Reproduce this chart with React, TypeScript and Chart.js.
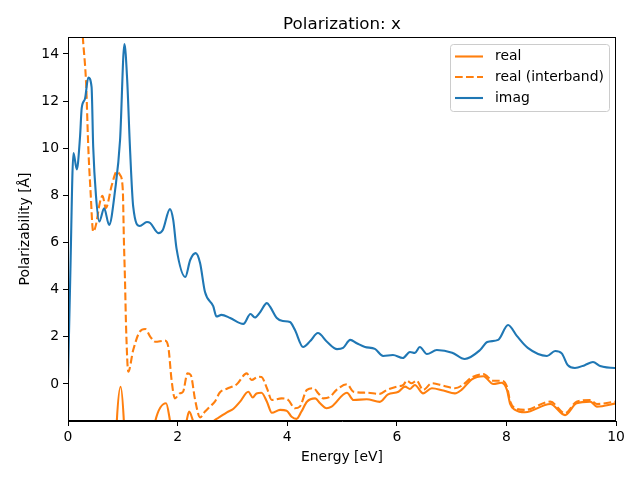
import React, { useEffect, useRef } from "react";
import { Chart, registerables } from "chart.js";

Chart.register(...registerables);

const imagX = [0.0, 0.04, 0.10, 0.16, 0.22, 0.25, 0.31, 0.37, 0.43, 0.46, 0.51, 0.57, 0.66, 0.75, 0.86, 0.95, 1.03, 1.08, 1.13, 1.19, 1.31, 1.44, 1.50, 1.65, 1.73, 1.86, 1.92, 1.98, 2.14, 2.23, 2.33, 2.41, 2.50, 2.65, 2.71, 2.80, 2.96, 3.20, 3.33, 3.41, 3.50, 3.63, 3.69, 3.81, 3.92, 4.05, 4.14, 4.29, 4.42, 4.56, 4.73, 4.91, 5.02, 5.15, 5.27, 5.42, 5.60, 5.75, 5.93, 6.11, 6.24, 6.33, 6.42, 6.55, 6.73, 7.01, 7.24, 7.52, 7.65, 7.85, 8.03, 8.19, 8.39, 8.74, 8.89, 9.01, 9.12, 9.25, 9.43, 9.58, 9.71, 9.98, 10.0];
const imagY = [0.2, 4.4, 9.8, 9.1, 10.5, 11.7, 12.1, 13.0, 12.6, 10.05, 8.0, 6.89, 7.45, 6.75, 8.23, 10.35, 14.42, 12.9, 10.07, 7.52, 6.7, 6.87, 6.83, 6.4, 6.53, 7.42, 6.96, 5.75, 4.54, 5.26, 5.55, 5.13, 3.9, 3.3, 2.86, 2.93, 2.8, 2.55, 2.97, 2.82, 3.03, 3.43, 3.27, 2.8, 2.67, 2.63, 2.3, 1.57, 1.82, 2.16, 1.78, 1.48, 1.53, 1.87, 1.73, 1.57, 1.49, 1.19, 1.23, 1.1, 1.36, 1.32, 1.57, 1.27, 1.44, 1.33, 1.06, 1.44, 1.78, 1.87, 2.5, 2.04, 1.53, 1.19, 1.4, 1.3, 0.8, 0.68, 0.8, 0.93, 0.76, 0.68, 0.68];

const interX = [0.05, 0.2, 0.27, 0.33, 0.37, 0.41, 0.46, 0.51, 0.58, 0.63, 0.69, 0.80, 0.89, 0.95, 1.0, 1.02, 1.04, 1.06, 1.10, 1.19, 1.31, 1.41, 1.50, 1.59, 1.77, 1.83, 1.89, 1.95, 2.04, 2.10, 2.18, 2.24, 2.32, 2.41, 2.50, 2.59, 2.68, 2.77, 2.90, 3.08, 3.26, 3.35, 3.47, 3.53, 3.63, 3.72, 3.90, 4.02, 4.14, 4.23, 4.36, 4.48, 4.57, 4.66, 4.78, 4.90, 5.09, 5.21, 5.45, 5.69, 5.82, 6.00, 6.12, 6.18, 6.27, 6.36, 6.48, 6.64, 6.85, 7.06, 7.18, 7.37, 7.58, 7.76, 7.91, 8.01, 8.07, 8.16, 8.34, 8.80, 9.07, 9.28, 9.53, 9.65, 9.98, 10.0];
const interY = [25, 17.5, 14.73, 12.77, 10.05, 8.23, 6.46, 6.75, 7.68, 7.98, 7.47, 8.44, 9.01, 8.87, 8.23, 6.11, 4.41, 2.4, 0.52, 1.44, 2.22, 2.33, 2.01, 1.79, 1.84, 1.58, 0.17, -0.61, -0.4, -0.33, 0.45, 0.38, -0.68, -1.42, -1.17, -0.96, -0.75, -0.36, -0.2, -0.01, 0.45, 0.17, 0.31, 0.3, -0.18, -0.68, -0.61, -0.68, -1.03, -0.96, -0.25, -0.18, -0.4, -0.61, -0.54, -0.25, -0.01, -0.33, -0.37, -0.42, -0.25, -0.11, -0.04, 0.14, 0.03, 0.14, -0.25, 0.03, -0.07, -0.18, -0.08, 0.28, 0.42, 0.14, 0.14, -0.11, -0.75, -1.03, -1.1, -0.75, -1.24, -0.75, -0.68, -0.85, -0.75, -0.74];

const realX = [0.0, 0.5, 0.85, 0.89, 0.96, 1.02, 1.06, 1.3, 1.55, 1.59, 1.79, 1.85, 1.92, 2.08, 2.16, 2.21, 2.29, 2.45, 2.67, 2.77, 2.90, 3.02, 3.14, 3.29, 3.37, 3.44, 3.53, 3.63, 3.72, 3.87, 3.99, 4.08, 4.17, 4.26, 4.36, 4.51, 4.60, 4.72, 4.81, 5.09, 5.21, 5.45, 5.69, 5.84, 6.03, 6.15, 6.24, 6.33, 6.48, 6.64, 6.85, 7.06, 7.18, 7.37, 7.58, 7.76, 7.91, 8.01, 8.07, 8.16, 8.34, 8.80, 9.07, 9.28, 9.53, 9.65, 10.0];
const realY = [-30, -10, -4, -1.6, -0.12, -1.6, -4, -4, -2.2, -1.6, -0.82, -1.4, -2.5, -2.2, -1.6, -1.17, -1.6, -2.2, -1.55, -1.4, -1.2, -1.05, -0.75, -0.33, -0.57, -0.4, -0.37, -0.75, -1.22, -1.1, -1.13, -1.39, -1.48, -1.17, -0.75, -0.61, -0.82, -1.03, -0.96, -0.37, -0.68, -0.65, -0.76, -0.44, -0.33, -0.11, -0.21, -0.04, -0.4, -0.18, -0.28, -0.4, -0.25, 0.2, 0.33, 0.0, 0.05, -0.25, -0.85, -1.1, -1.2, -0.85, -1.32, -0.82, -0.75, -0.96, -0.82];

const xTicks = [0, 2, 4, 6, 8, 10];
const yTicks = [0, 2, 4, 6, 8, 10, 12, 14];
const legendLabels = ["real", "real (interband)", "imag"];

const ORANGE = "#ff7f0e";
const BLUE = "#1f77b4";
const FONT = "DejaVu Sans";

const toPts = (xs: number[], ys: number[]) => xs.map((x, i) => ({ x, y: ys[i] }));

const decorPlugin = {
  id: "decor",
  afterDatasetsDraw(chart: any) {
    const { ctx, chartArea } = chart;
    const { left, right, top, bottom } = chartArea;
    ctx.save();
    // frame
    ctx.strokeStyle = "#000";
    ctx.lineWidth = 1;
    ctx.strokeRect(left + 0.5, top + 0.5, right - left - 1, bottom - top - 1);
    // title
    ctx.fillStyle = "#000";
    ctx.font = `16.7px "${FONT}"`;
    ctx.textAlign = "center";
    ctx.textBaseline = "alphabetic";
    ctx.fillText("Polarization: x", (left + right) / 2, 29);
    // axis titles
    ctx.font = `13.9px "${FONT}"`;
    ctx.textBaseline = "middle";
    ctx.fillText("Energy [eV]", (left + right) / 2, 457);
    ctx.save();
    ctx.translate(25, (top + bottom) / 2);
    ctx.rotate(-Math.PI / 2);
    ctx.fillText("Polarizability [Å]", 0, 0);
    ctx.restore();
    // legend
    const bx = 450, by = 44, bw = 159, bh = 67, r = 3;
    ctx.globalAlpha = 0.8;
    ctx.fillStyle = "#fff";
    ctx.beginPath();
    ctx.roundRect(bx + 0.5, by + 0.5, bw, bh, r);
    ctx.fill();
    ctx.globalAlpha = 1;
    ctx.strokeStyle = "#cccccc";
    ctx.lineWidth = 1;
    ctx.stroke();
    const rows = [56.5, 77, 98];
    const colors = [ORANGE, ORANGE, BLUE];
    const dashes = [[], [7.7, 3.3], []];
    rows.forEach((ry, i) => {
      ctx.strokeStyle = colors[i];
      ctx.lineWidth = 2.1;
      ctx.setLineDash(dashes[i]);
      ctx.beginPath();
      ctx.moveTo(455, ry);
      ctx.lineTo(483, ry);
      ctx.stroke();
      ctx.setLineDash([]);
      ctx.fillStyle = "#000";
      ctx.textAlign = "left";
      ctx.textBaseline = "middle";
      ctx.font = `13.9px "${FONT}"`;
      ctx.fillText(legendLabels[i], 495, ry);
    });
    ctx.restore();
  },
};

export default function App() {
  const ref = useRef<HTMLCanvasElement>(null);
  useEffect(() => {
    document.body.style.margin = "0";
    const chart = new Chart(ref.current!, {
      type: "line",
      data: {
        datasets: [
          {
            label: legendLabels[0],
            data: toPts(realX, realY),
            borderColor: ORANGE,
            borderWidth: 2.1,
            pointRadius: 0,
            cubicInterpolationMode: "monotone",
            order: 2,
          },
          {
            label: legendLabels[1],
            data: toPts(interX, interY),
            borderColor: ORANGE,
            borderWidth: 2.1,
            borderDash: [7.7, 3.3],
            pointRadius: 0,
            cubicInterpolationMode: "monotone",
            order: 1,
          },
          {
            label: legendLabels[2],
            data: toPts(imagX, imagY),
            borderColor: BLUE,
            borderWidth: 2.1,
            pointRadius: 0,
            cubicInterpolationMode: "monotone",
            order: 0,
          },
        ],
      },
      options: {
        responsive: false,
        animation: false,
        layout: { padding: { top: 37, right: 24, left: 0, bottom: 0 } },
        plugins: { legend: { display: false }, title: { display: false }, tooltip: { enabled: false } },
        scales: {
          x: {
            type: "linear",
            min: 0,
            max: 10,
            afterFit: (s: any) => { s.height = 59; },
            afterBuildTicks: (s: any) => { s.ticks = xTicks.map((v) => ({ value: v })); },
            grid: { drawOnChartArea: false, drawTicks: true, tickLength: 5, color: "#000" },
            border: { color: "#000", width: 1 },
            ticks: { color: "#000", font: { family: FONT, size: 13.9 }, padding: 3, maxRotation: 0 },
          },
          y: {
            type: "linear",
            min: -1.57,
            max: 14.72,
            afterFit: (s: any) => { s.width = 68; },
            afterBuildTicks: (s: any) => { s.ticks = yTicks.map((v) => ({ value: v })); },
            grid: { drawOnChartArea: false, drawTicks: true, tickLength: 5, color: "#000" },
            border: { color: "#000", width: 1 },
            ticks: { color: "#000", font: { family: FONT, size: 13.9 }, padding: 4 },
          },
        },
      },
      plugins: [decorPlugin],
    });
    return () => chart.destroy();
  }, []);
  return (
    <div style={{ position: "absolute", left: 0, top: 0, width: 640, height: 480, background: "#fff" }}>
      <canvas ref={ref} width={640} height={480} />
    </div>
  );
}
